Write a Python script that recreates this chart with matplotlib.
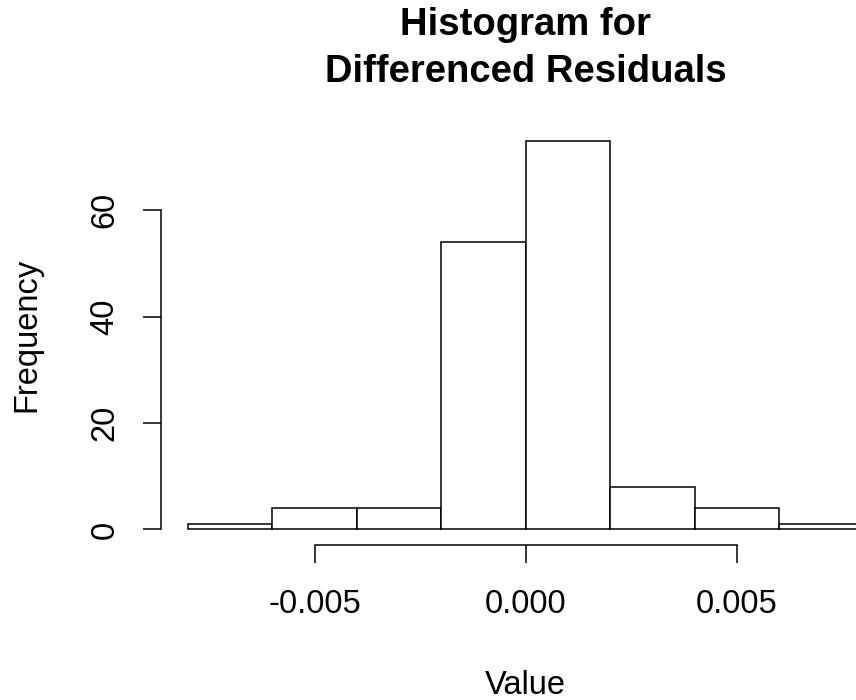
import matplotlib
matplotlib.use("Agg")
import matplotlib.pyplot as plt
import numpy as np

plt.rcParams['font.family'] = ['Liberation Sans', 'DejaVu Sans']

# histogram of differenced residuals (bin edges + counts)
bin_edges = [-0.008, -0.006, -0.004, -0.002, 0.0, 0.002, 0.004, 0.006, 0.008]
counts = [1, 4, 4, 54, 73, 8, 4, 1]
x_ticks = [-0.005, 0.0, 0.005]
x_ticklabels = ["-0.005", "0.000", "0.005"]
y_ticks = [0, 20, 40, 60]

W, H = 856, 700
fig = plt.figure(figsize=(W / 100, H / 100), dpi=100)

# plot region in pixels (R style, extends a little past the right edge)
left_px, right_px = 161, 890.6
top_px, bottom_px = 125.5, 545
ax = fig.add_axes([left_px / W, 1 - bottom_px / H,
                   (right_px - left_px) / W, (bottom_px - top_px) / H])

edges = np.array(bin_edges)
ax.bar(edges[:-1], counts, width=np.diff(edges), align='edge',
       facecolor='white', edgecolor='black', linewidth=1.1)

# R pads the ranges by 4%
xr = edges[-1] - edges[0]
ax.set_xlim(edges[0] - 0.04 * xr, edges[-1] + 0.04 * xr)
ymax = max(counts)
ax.set_ylim(-0.04 * ymax, ymax * 1.04)

for s in ['top', 'right']:
    ax.spines[s].set_visible(False)
ax.spines['left'].set_bounds(y_ticks[0], y_ticks[-1])
ax.spines['bottom'].set_bounds(x_ticks[0], x_ticks[-1])
for s in ['left', 'bottom']:
    ax.spines[s].set_linewidth(1.1)

ax.set_xticks(x_ticks)
ax.set_xticklabels(x_ticklabels)
ax.set_yticks(y_ticks)
ax.tick_params(axis='both', length=13, width=1.1, labelsize=23.5,
               colors='black')
ax.tick_params(axis='x', pad=19)
ax.tick_params(axis='y', pad=16, labelrotation=90)
for lbl in ax.get_yticklabels():
    lbl.set_va('center')

# titles and axis labels
cx = (left_px + right_px) / 2 / W
fig.text(cx, 1 - 25 / H, "Histogram for", ha='center', va='center',
         fontsize=27.5, fontweight='bold')
fig.text(cx, 1 - 72 / H, "Differenced Residuals", ha='center', va='center',
         fontsize=27.5, fontweight='bold')
fig.text(cx, 1 - 685 / H, "Value", ha='center', va='center', fontsize=23.5)
fig.text(27 / W, 1 - 335 / H, "Frequency", ha='center', va='center',
         rotation=90, fontsize=23.5)

fig.savefig("out.png", dpi=100, facecolor='white')
